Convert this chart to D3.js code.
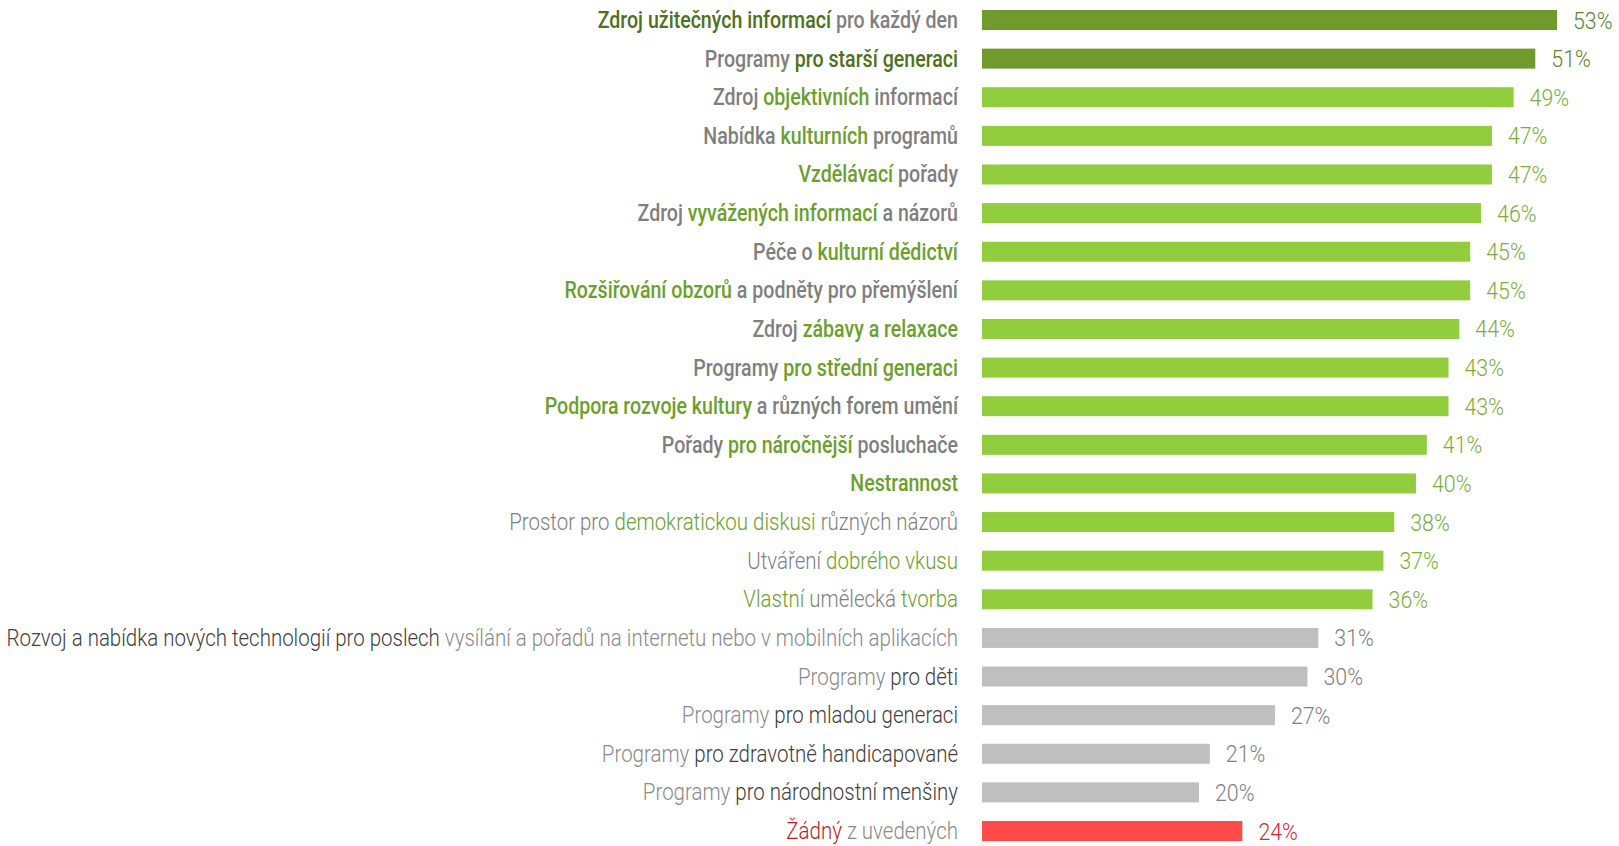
<!DOCTYPE html>
<html>
<head>
<meta charset="utf-8">
<script src="https://cdn.jsdelivr.net/npm/d3@7"></script>
<style>
  html, body { margin: 0; padding: 0; background: #fff; }
  svg { display: block; }
  text { font-family: Roboto, "Noto Sans", sans-serif; }
</style>
</head>
<body>
<svg id="chart" width="1619" height="846"></svg>
<script>
// [..] marks the highlighted part of each label
var labels = [
    "[Zdroj užitečných informací] pro každý den",
    "Programy [pro starší generaci]",
    "Zdroj [objektivních] informací",
    "Nabídka [kulturních] programů",
    "[Vzdělávací] pořady",
    "Zdroj [vyvážených informací] a názorů",
    "Péče o [kulturní dědictví]",
    "[Rozšiřování obzorů] a podněty pro přemýšlení",
    "Zdroj [zábavy a relaxace]",
    "Programy [pro střední generaci]",
    "[Podpora rozvoje kultury] a různých forem umění",
    "Pořady [pro náročnější] posluchače",
    "[Nestrannost]",
    "Prostor pro [demokratickou diskusi] různých názorů",
    "Utváření [dobrého vkusu]",
    "[Vlastní] umělecká [tvorba]",
    "[Rozvoj a nabídka nových technologií pro poslech] vysílání a pořadů na internetu nebo v mobilních aplikacích",
    "Programy [pro děti]",
    "Programy [pro mladou generaci]",
    "Programy [pro zdravotně handicapované]",
    "Programy [pro národnostní menšiny]",
    "[Žádný] z uvedených"
];
var values = [53, 51, 49, 47, 47, 46, 45, 45, 44, 43, 43, 41, 40, 38, 37, 36, 31, 30, 27, 21, 20, 24];
var groups = ["top", "top", "green", "green", "green", "green", "green", "green", "green", "green", "green", "green", "green",
              "greenLight", "greenLight", "greenLight", "grey", "grey", "grey", "grey", "grey", "none"];

var style = {
    top:        {bar: "#6f9b2c", hi: "#4e7020", lo: "#7f7f7f", val: "#5b8428", weight: 500},
    green:      {bar: "#92cd3e", hi: "#6ba02b", lo: "#7f7f7f", val: "#7aae3a", weight: 500},
    greenLight: {bar: "#92cd3e", hi: "#6ba02b", lo: "#7f7f7f", val: "#7aae3a", weight: 300},
    grey:       {bar: "#bfbfbf", hi: "#404040", lo: "#8a8a8a", val: "#808080", weight: 300},
    none:       {bar: "#ff4a4a", hi: "#b81c1c", lo: "#8a8a8a", val: "#d8262a", weight: 300}
};

var svg = d3.select("#chart");
var labelRight = 958;
var fontSize = 23;
var barH = 20;

// horizontal squeeze per weight, for the condensed look
function squeeze(w){ return w >= 500 ? 0.852 : 0.89; }

var x = d3.scaleLinear().domain([0, 53]).range([982, 1557]);
// top of each bar
var y = d3.scaleLinear().domain([0, values.length - 1]).range([10, 10 + 38.62 * (values.length - 1)]);

// parse label into segments
function segments(str){
    var out = [];
    str.split(/(\[[^\]]*\])/).forEach(function(s){
        if (s === "") return;
        if (s[0] === "[") out.push({t: s.slice(1, -1), hi: true});
        else out.push({t: s, hi: false});
    });
    return out;
}

var rows = svg.selectAll(".row")
    .data(values)
    .join("g")
    .attr("class", "row");

rows.append("rect")
    .attr("x", x(0))
    .attr("y", function(d, i){ return y(i); })
    .attr("width", function(d){ return x(d) - x(0); })
    .attr("height", barH)
    .attr("fill", function(d, i){ return style[groups[i]].bar; });

// labels
rows.append("g")
    .attr("transform", function(d, i){
        var cy = y(i) + barH / 2;
        return "translate(" + labelRight + "," + (cy + 8) + ") scale(" + squeeze(style[groups[i]].weight) + ",1)";
    })
    .append("text")
    .attr("text-anchor", "end")
    .style("font-size", fontSize + "px")
    .style("font-weight", function(d, i){ return style[groups[i]].weight; })
    .each(function(d, i){
        var st = style[groups[i]];
        d3.select(this).selectAll("tspan")
            .data(segments(labels[i]))
            .join("tspan")
            .attr("fill", function(s){ return s.hi ? st.hi : st.lo; })
            .style("white-space", "pre")
            .text(function(s){ return s.t; });
    });

// value labels
rows.append("g")
    .attr("transform", function(d, i){
        var cy = y(i) + barH / 2;
        return "translate(" + (x(d) + 16) + "," + (cy + 8.5) + ") scale(0.89,1)";
    })
    .append("text")
    .style("font-size", "24px")
    .style("font-weight", 300)
    .attr("fill", function(d, i){ return style[groups[i]].val; })
    .text(function(d){ return d + "%"; });
</script>
</body>
</html>
